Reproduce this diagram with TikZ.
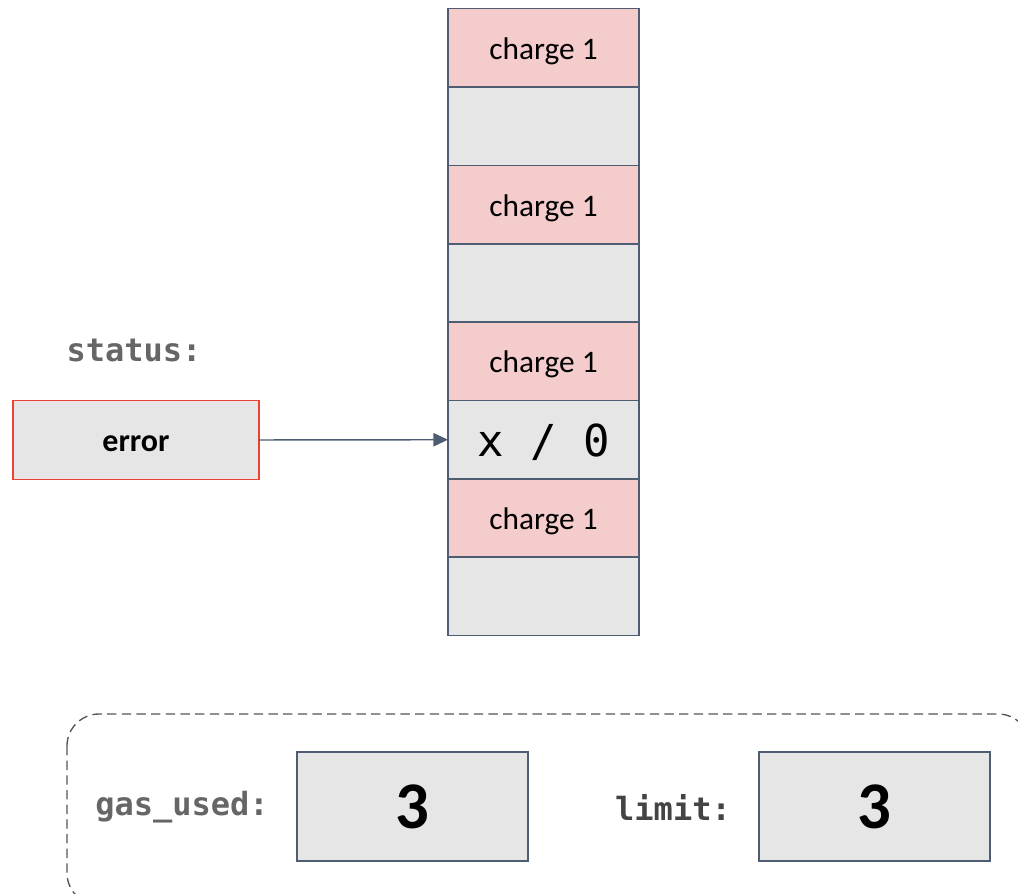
\documentclass[tikz,border=0pt]{standalone}
\usepackage{fontspec}
\setmainfont{Carlito}
\newfontfamily\codefont{DejaVu Sans Mono}
\usetikzlibrary{arrows.meta}
\definecolor{cellpink}{HTML}{F4CCCC}
\definecolor{cellgray}{HTML}{E6E6E6}
\definecolor{edgeblue}{HTML}{4F5D73}
\definecolor{errred}{HTML}{EA4335}
\definecolor{labelgray}{HTML}{666666}
\definecolor{labeldark}{HTML}{444444}
\definecolor{frame}{HTML}{555555}
\tikzset{
  cell/.style={draw=edgeblue, line width=1.3pt, minimum width=143.25pt,
    minimum height=58.8pt, inner sep=0pt, outer sep=0pt, anchor=north west,
    text height=17pt, text depth=0pt,
    font=\fontsize{23.5}{26}\selectfont},
  chargecell/.style={cell, fill=cellpink},
  plaincell/.style={cell, fill=cellgray},
  errbox/.style={draw=errred, fill=cellgray, line width=1.3pt, minimum width=184.5pt,
    minimum height=59.25pt, inner sep=0pt, outer sep=0pt, anchor=north west,
    text height=17pt, text depth=0pt,
    font=\fontsize{24}{26}\selectfont\bfseries},
  valbox/.style={draw=edgeblue, fill=cellgray, line width=1.3pt, minimum width=173.25pt,
    minimum height=81.75pt, inner sep=0pt, outer sep=0pt, anchor=north west,
    font=\fontsize{50}{54}\selectfont\bfseries},
  codelabel/.style={font=\codefont\fontsize{24}{26}\selectfont\bfseries, inner sep=0pt},
  pointer/.style={draw=edgeblue, line width=1.1pt, -{Triangle[length=11pt,width=10pt]}}
}
\begin{document}
\begin{tikzpicture}[x=0.75pt, y=-0.75pt]
\useasboundingbox (0,0) rectangle (1018,893);
\clip (0,0) rectangle (1018,893);
% stack of cells
\node[chargecell] (c1) at (448,8.5) {charge 1};
\node[plaincell]  (c2) at (448,87) {};
\node[chargecell] (c3) at (448,165.5) {charge 1};
\node[plaincell]  (c4) at (448,244) {};
\node[chargecell] (c5) at (448,322) {charge 1};
\node[plaincell, text height=25pt, font=\codefont\fontsize{33}{36}\selectfont] (c6) at (448,400.5) {x / 0};
\node[chargecell] (c7) at (448,479) {charge 1};
\node[plaincell]  (c8) at (448,557) {};
% status register
\node[codelabel, text=labelgray] (st) at (134,350) {status:};
\node[errbox] (err) at (13,400.5) {error};
\draw[pointer] (err.east) -- (c6.west);
% gas meter
\draw[frame, line width=1pt, dash pattern=on 7pt off 4pt, rounded corners=24pt]
  (67,714) rectangle (1030,905);
\node[codelabel, text=labelgray] (gu) at (182,807) {gas\_used:};
\node[valbox] (gv) at (297,752) {3};
\node[codelabel, text=labeldark] (lm) at (673,807) {limit:};
\node[valbox] (lv) at (759,752) {3};
\end{tikzpicture}
\end{document}
